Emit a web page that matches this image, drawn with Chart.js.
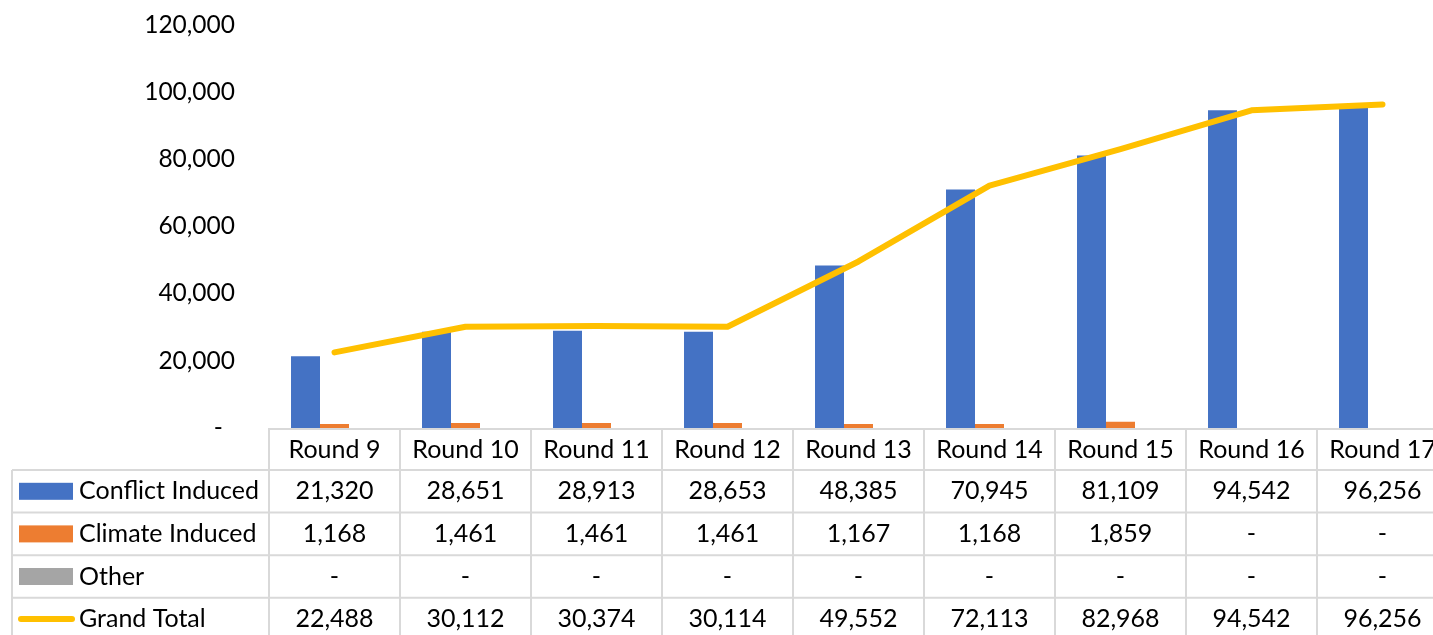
<!DOCTYPE html>
<html lang="en">
<head>
<meta charset="UTF-8">
<title>Displacement by reason</title>
<script src="https://cdn.jsdelivr.net/npm/chart.js"></script>
<style>
  html, body { margin: 0; padding: 0; background: #fff; overflow: hidden; }
  #wrap { width: 1452px; height: 659px; margin-top: -24px; }
</style>
</head>
<body>
<div id="wrap"><canvas id="chartCanvas"></canvas></div>
<script>
const rounds = ["Round 9", "Round 10", "Round 11", "Round 12", "Round 13", "Round 14", "Round 15", "Round 16", "Round 17"]
const conflictInduced = [21320, 28651, 28913, 28653, 48385, 70945, 81109, 94542, 96256]
const climateInduced = [1168, 1461, 1461, 1461, 1167, 1168, 1859, 0, 0]
const other = [0, 0, 0, 0, 0, 0, 0, 0, 0]
const grandTotal = [22488, 30112, 30374, 30114, 49552, 72113, 82968, 94542, 96256]
const yMax = 120000
const yStep = 20000

const blue = "#4472C4"
const orange = "#ED7D31"
const grey = "#A5A5A5"
const gold = "#FFC000"

Chart.defaults.font.family = "Lato"
Chart.defaults.font.size = 24.5
Chart.defaults.color = "#000"

function fmt(v) {
  return v === 0 ? "-" : v.toLocaleString("en-US")
}

// rows of the data table under the plot
const tableRows = [
  { name: "Conflict Induced", values: conflictInduced, color: blue, kind: "bar" },
  { name: "Climate Induced", values: climateInduced, color: orange, kind: "bar" },
  { name: "Other", values: other, color: grey, kind: "bar" },
  { name: "Grand Total", values: grandTotal, color: gold, kind: "line" }
]

const dataTable = {
  id: "dataTable",
  afterDraw(chart) {
    const ctx = chart.ctx
    const xs = chart.scales.x
    const top = chart.chartArea.bottom
    const step = xs.getPixelForValue(1) - xs.getPixelForValue(0)
    const left = xs.getPixelForValue(0) - step / 2
    const right = xs.getPixelForValue(rounds.length - 1) + step / 2
    const legendLeft = 12
    const headH = 42
    const rowH = 42.6

    ctx.save()
    ctx.strokeStyle = "#D9D9D9"
    ctx.lineWidth = 2

    ctx.beginPath()
    ctx.moveTo(left, top + 1)
    ctx.lineTo(right, top + 1)
    for (let i = 0; i <= rounds.length; i++) {
      const x = left + i * step
      ctx.moveTo(x, top)
      ctx.lineTo(x, top + headH + rowH * tableRows.length)
    }
    for (let r = 0; r <= tableRows.length; r++) {
      const y = top + headH + r * rowH
      ctx.moveTo(legendLeft, y)
      ctx.lineTo(right, y)
    }
    ctx.moveTo(legendLeft, top + headH)
    ctx.lineTo(legendLeft, top + headH + rowH * tableRows.length)
    ctx.stroke()

    ctx.fillStyle = "#000"
    ctx.font = "25px Lato"
    ctx.textBaseline = "middle"
    ctx.textAlign = "center"
    rounds.forEach((r, i) => {
      ctx.fillText(r, xs.getPixelForValue(i), top + headH / 2 + 1)
    })

    tableRows.forEach((row, r) => {
      const cy = top + headH + r * rowH + rowH / 2
      if (row.kind === "bar") {
        ctx.fillStyle = row.color
        ctx.fillRect(19, cy - 8.5, 54, 17)
      } else {
        ctx.strokeStyle = row.color
        ctx.lineWidth = 6
        ctx.lineCap = "round"
        ctx.beginPath()
        ctx.moveTo(21, cy)
        ctx.lineTo(72, cy)
        ctx.stroke()
      }
      ctx.fillStyle = "#000"
      ctx.textAlign = "left"
      ctx.fillText(row.name, 79, cy)
      ctx.textAlign = "center"
      row.values.forEach((v, i) => {
        ctx.fillText(fmt(v), xs.getPixelForValue(i), cy)
      })
    })
    ctx.restore()
  }
}

const ctx = document.getElementById("chartCanvas").getContext("2d")
new Chart(ctx, {
  type: "bar",
  data: {
    labels: rounds,
    datasets: [
      {
        type: "line",
        label: "Grand Total",
        data: grandTotal,
        borderColor: gold,
        borderWidth: 6,
        borderCapStyle: "round",
        borderJoinStyle: "round",
        pointRadius: 0,
        tension: 0,
        order: 0
      },
      { label: "Conflict Induced", data: conflictInduced, backgroundColor: blue, order: 1 },
      { label: "Climate Induced", data: climateInduced, backgroundColor: orange, order: 1 },
      { label: "Other", data: other, backgroundColor: grey, order: 1 }
    ]
  },
  options: {
    responsive: true,
    maintainAspectRatio: false,
    animation: false,
    categoryPercentage: 0.664,
    barPercentage: 1,
    layout: { padding: { top: 0, bottom: 207, left: 0, right: 4 } },
    plugins: {
      legend: { display: false },
      tooltip: { enabled: false }
    },
    scales: {
      x: { display: false },
      y: {
        min: 0,
        max: yMax,
        afterFit(scale) { scale.width = 269 },
        grid: { display: false, drawTicks: false },
        border: { display: false },
        ticks: {
          stepSize: yStep,
          padding: 34,
          callback: v => v === 0 ? "-\u2002" : v.toLocaleString("en-US")
        }
      }
    }
  },
  plugins: [dataTable]
})
</script>
</body>
</html>
